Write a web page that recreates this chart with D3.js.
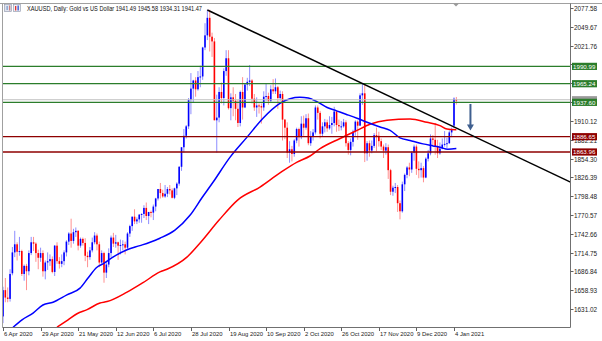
<!DOCTYPE html>
<html>
<head>
<meta charset="utf-8">
<script src="https://cdn.jsdelivr.net/npm/d3@7"></script>
<style>
  body { margin: 0; background: #fff; }
  text { font-family: "Liberation Sans", Arial, sans-serif; }
</style>
</head>
<body>
<svg id="chart" width="602" height="341"></svg>
<script>
// daily bars, 6 Apr 2020 .. 5 Jan 2021 : [open, high, low, close]
var candles = [
  [1620,1664,1610,1659],[1659,1677,1641,1648],[1648,1663,1641,1646],[1646,1690,1642,1683],
  [1684,1723,1681,1715],[1715,1747,1708,1727],[1727,1730,1703,1716],[1716,1738,1710,1717],
  [1717,1719,1680,1683],[1683,1697,1673,1695],[1695,1698,1659,1687],[1687,1718,1681,1714],
  [1714,1738,1711,1730],[1730,1738,1717,1728],[1728,1730,1701,1714],[1714,1719,1690,1707],
  [1707,1722,1701,1714],[1714,1718,1679,1687],[1687,1703,1675,1700],[1700,1715,1689,1702],
  [1702,1712,1695,1705],[1705,1709,1684,1686],[1686,1726,1680,1725],[1725,1730,1698,1702],
  [1702,1708,1691,1698],[1698,1712,1693,1702],[1702,1718,1696,1715],[1715,1733,1709,1731],
  [1731,1745,1726,1743],[1743,1765,1722,1732],[1732,1750,1728,1745],[1745,1752,1738,1747],
  [1747,1748,1718,1725],[1725,1737,1722,1735],[1735,1737,1725,1729],[1729,1736,1702,1710],
  [1710,1716,1693,1708],[1708,1723,1704,1718],[1718,1737,1715,1730],[1730,1745,1727,1740],
  [1740,1743,1718,1727],[1727,1731,1693,1700],[1700,1718,1697,1714],[1714,1716,1670,1685],
  [1685,1701,1677,1697],[1697,1721,1693,1714],[1714,1740,1708,1737],[1737,1744,1723,1728],
  [1728,1741,1722,1730],[1730,1731,1704,1725],[1725,1734,1712,1726],[1726,1733,1718,1727],
  [1727,1731,1712,1722],[1722,1745,1720,1743],[1743,1756,1738,1754],[1754,1768,1747,1768],
  [1768,1779,1757,1761],[1761,1767,1757,1764],[1764,1772,1759,1771],[1771,1773,1759,1772],
  [1772,1785,1766,1781],[1781,1789,1763,1769],[1769,1775,1757,1775],[1775,1777,1767,1774],
  [1774,1786,1763,1783],[1783,1796,1776,1795],[1795,1809,1792,1809],[1809,1818,1795,1803],
  [1803,1808,1796,1798],[1798,1815,1796,1802],[1802,1812,1797,1809],[1809,1815,1801,1807],
  [1807,1810,1795,1796],[1796,1811,1794,1810],[1810,1819,1800,1817],[1817,1843,1814,1842],
  [1842,1871,1836,1871],[1871,1898,1863,1888],[1888,1904,1884,1902],[1902,1944,1898,1941],
  [1941,1981,1920,1958],[1958,1971,1938,1970],[1970,1975,1946,1957],[1957,1984,1955,1975],
  [1975,1992,1960,1976],[1976,2020,1971,2019],[2019,2055,2015,2037],[2037,2075,2030,2063],
  [2063,2075,2013,2035],[2035,2041,2005,2028],[2028,2033,1911,1911],[1911,1949,1863,1915],
  [1915,1960,1908,1953],[1953,1967,1936,1944],[1944,1988,1933,1984],[1984,2015,1977,2003],
  [2003,2015,1927,1929],[1929,1951,1911,1945],[1945,1960,1917,1940],[1940,1950,1911,1928],
  [1928,1941,1901,1907],[1907,1955,1902,1953],[1953,1975,1912,1930],[1930,1965,1929,1964],
  [1964,1974,1955,1968],[1968,1993,1962,1970],[1970,1972,1936,1943],[1943,1950,1925,1930],
  [1930,1945,1916,1933],[1933,1936,1921,1932],[1932,1936,1906,1930],[1930,1954,1925,1946],
  [1946,1966,1940,1947],[1947,1952,1934,1940],[1940,1963,1937,1957],[1957,1972,1950,1954],
  [1954,1973,1950,1960],[1960,1962,1928,1944],[1944,1955,1940,1950],[1950,1954,1881,1912],
  [1912,1913,1883,1900],[1900,1908,1855,1863],[1863,1880,1848,1868],[1868,1873,1850,1861],
  [1861,1883,1857,1881],[1881,1900,1877,1898],[1898,1900,1872,1886],[1886,1917,1883,1906],
  [1906,1918,1888,1900],[1900,1920,1897,1914],[1914,1921,1874,1877],[1877,1895,1873,1887],
  [1887,1898,1881,1893],[1893,1933,1890,1930],[1930,1933,1912,1922],[1922,1925,1884,1891],
  [1891,1908,1887,1902],[1902,1913,1893,1908],[1908,1912,1894,1899],[1899,1917,1897,1904],
  [1904,1916,1891,1907],[1907,1931,1902,1924],[1924,1926,1894,1904],[1904,1912,1895,1902],
  [1902,1910,1896,1902],[1902,1913,1900,1908],[1908,1911,1872,1877],[1877,1880,1860,1867],
  [1867,1884,1859,1879],[1879,1897,1872,1894],[1894,1911,1888,1909],[1909,1911,1882,1903],
  [1903,1951,1903,1948],[1948,1965,1934,1951],[1951,1966,1849,1862],[1862,1880,1851,1877],
  [1877,1881,1857,1866],[1866,1881,1862,1873],[1873,1892,1870,1889],[1889,1900,1865,1888],
  [1888,1894,1872,1880],[1880,1884,1867,1872],[1872,1875,1855,1866],[1866,1877,1860,1871],
  [1871,1875,1824,1837],[1837,1839,1800,1805],[1805,1814,1799,1811],[1811,1818,1803,1812],
  [1812,1815,1775,1788],[1788,1792,1764,1776],[1776,1820,1774,1816],[1816,1832,1806,1830],
  [1830,1843,1825,1841],[1841,1848,1828,1838],[1838,1865,1833,1863],[1863,1875,1851,1872],
  [1872,1875,1830,1839],[1839,1850,1825,1837],[1837,1848,1826,1840],[1840,1843,1819,1826],
  [1826,1856,1825,1854],[1854,1867,1850,1862],[1862,1890,1859,1884],[1884,1889,1874,1882],
  [1882,1907,1860,1872],[1872,1882,1855,1862],[1862,1878,1860,1869],[1869,1884,1868,1875],
  [1875,1895,1872,1876],[1876,1885,1870,1877],[1877,1896,1876,1893],[1893,1900,1886,1897],
  [1903,1945,1900,1943],[1941.49,1945.58,1934.31,1941.47]
];

// moving averages: [bar index, price]
var blueMA = [
  [4.3,1604],[8.1,1615],[12.8,1625],[17,1637],[21.3,1641],[27.2,1652],[32.8,1662],[36.2,1677],
  [40,1693],[42.6,1698],[46.8,1708],[52.8,1719],[58.3,1725],[62.6,1730],[66.8,1736],[73.2,1748],
  [79.6,1770],[84.7,1796],[89.4,1819],[96.6,1856],[103.9,1886],[110.7,1914],[117.9,1936],
  [122.2,1943],[126.4,1945],[130,1944],[134,1938],[138,1930],[142,1925],[146,1920],[150.7,1914],
  [155,1908],[160.5,1901],[164.8,1896],[169,1885],[173.3,1881],[178.8,1876],[183.1,1873],
  [186,1871],[189.4,1868],[193,1869]
];
var redMA = [
  [23,1604],[27.7,1615],[31.5,1624],[35.8,1630],[41.3,1640],[44.3,1642],[52.8,1656],[59.6,1670],
  [66.8,1686],[69.8,1690],[78.3,1708],[83.9,1729],[92,1763],[100,1793],[109.4,1812],[117.9,1833],
  [125.2,1849],[130.7,1858],[135,1869],[143.5,1884],[150.7,1896],[156.2,1905],[163.5,1911],
  [173.3,1913],[180.5,1908],[186,1903],[189,1898],[193,1897]
];

var greenLevels = [1990.99, 1965.24, 1937.60];
var redLevels = [1886.65, 1863.96];
var bidPrice = 1941.47;
var trendPts = [[87, 2074.6], [193, 1899.5]];
var arrowPts = [[199, 1935], [199, 1896]];

var priceTicks = [2077.58, 2049.67, 2021.76, 1993.85, 1965.94, 1938.03, 1910.12, 1882.21,
  1854.30, 1826.39, 1798.48, 1770.57, 1742.66, 1714.75, 1686.84, 1658.93, 1631.02];
var dateTickIdx = [0, 16, 32, 48, 64, 80, 96, 112, 128, 144, 160, 176, 192];
var dateLabels = ["6 Apr 2020", "29 Apr 2020", "21 May 2020", "12 Jun 2020", "6 Jul 2020",
  "28 Jul 2020", "19 Aug 2020", "10 Sep 2020", "2 Oct 2020", "26 Oct 2020", "17 Nov 2020",
  "9 Dec 2020", "4 Jan 2021"];
var title = "XAUUSD, Daily:  Gold vs US Dollar  1941.49 1945.58 1934.31 1941.47";

var pL = 2.5, pR = 570.5, pT = 3.5, pB = 327.5;

var svg = d3.select("#chart");
var x = d3.scaleLinear().domain([0, 192]).range([3, 454]);
var y = d3.scaleLinear().domain([1631.02, 2077.58]).range([309, 8]);

svg.append("defs").append("clipPath").attr("id", "plotclip")
  .append("rect").attr("x", pL).attr("y", pT)
  .attr("width", pR - pL).attr("height", pB - pT);

var plot = svg.append("g").attr("clip-path", "url(#plotclip)");

// candles
var bars = plot.selectAll(".bar").data(candles).enter().append("g");
bars.append("line")
  .attr("x1", function(d, i) { return x(i); })
  .attr("x2", function(d, i) { return x(i); })
  .attr("y1", function(d) { return y(d[1]); })
  .attr("y2", function(d) { return y(d[2]); })
  .attr("stroke", function(d) { return d[3] >= d[0] ? "#8c8cff" : "#ff9090"; })
  .attr("stroke-width", 1);
bars.append("rect")
  .attr("x", function(d, i) { return x(i) - 0.8; })
  .attr("width", 1.6)
  .attr("y", function(d) { return y(Math.max(d[0], d[3])); })
  .attr("height", function(d) { return Math.max(1, Math.abs(y(d[0]) - y(d[3]))); })
  .attr("fill", function(d) { return d[3] >= d[0] ? "#0000ff" : "#ff0000"; });

// moving averages
var maLine = d3.line()
  .x(function(d) { return x(d[0]); })
  .y(function(d) { return y(d[1]); })
  .curve(d3.curveMonotoneX);
plot.append("path").attr("d", maLine(redMA))
  .attr("fill", "none").attr("stroke", "#ff0000").attr("stroke-width", 1.5);
plot.append("path").attr("d", maLine(blueMA))
  .attr("fill", "none").attr("stroke", "#0000ff").attr("stroke-width", 1.5);

// bid line
plot.append("line").attr("x1", pL).attr("x2", pR)
  .attr("y1", y(bidPrice)).attr("y2", y(bidPrice))
  .attr("stroke", "#c0c0c0").attr("stroke-width", 1);

// levels
plot.selectAll(".lvlg").data(greenLevels).enter().append("line")
  .attr("x1", pL).attr("x2", pR)
  .attr("y1", function(d) { return y(d); }).attr("y2", function(d) { return y(d); })
  .attr("stroke", "#2b7d2b").attr("stroke-width", 1.3);
plot.selectAll(".lvlr").data(redLevels).enter().append("line")
  .attr("x1", pL).attr("x2", pR)
  .attr("y1", function(d) { return y(d); }).attr("y2", function(d) { return y(d); })
  .attr("stroke", "#8e0000").attr("stroke-width", 1.3);

// trend line, extended to the right edge
var slope = (trendPts[1][1] - trendPts[0][1]) / (trendPts[1][0] - trendPts[0][0]);
var endIdx = x.invert(pR);
plot.append("line")
  .attr("x1", x(trendPts[0][0])).attr("y1", y(trendPts[0][1]))
  .attr("x2", x(endIdx)).attr("y2", y(trendPts[0][1] + slope * (endIdx - trendPts[0][0])))
  .attr("stroke", "#000").attr("stroke-width", 1.5);

// arrow
var ax = x(arrowPts[0][0]), ay1 = y(arrowPts[0][1]), ay2 = y(arrowPts[1][1]);
plot.append("line").attr("x1", ax).attr("x2", ax).attr("y1", ay1).attr("y2", ay2 - 4)
  .attr("stroke", "#3f5f8f").attr("stroke-width", 2);
plot.append("path")
  .attr("d", "M" + (ax - 3.5) + "," + (ay2 - 6) + "L" + (ax + 3.5) + "," + (ay2 - 6) + "L" + ax + "," + ay2 + "Z")
  .attr("fill", "#3f5f8f");

// frame
svg.append("line").attr("x1", 0).attr("x2", 602).attr("y1", pT).attr("y2", pT)
  .attr("stroke", "#a0a0a0");
svg.append("line").attr("x1", pL).attr("x2", pL).attr("y1", pT).attr("y2", pB)
  .attr("stroke", "#a0a0a0");
svg.append("line").attr("x1", pR).attr("x2", pR).attr("y1", pT).attr("y2", pB)
  .attr("stroke", "#707070");
svg.append("line").attr("x1", pL).attr("x2", pR).attr("y1", pB).attr("y2", pB)
  .attr("stroke", "#707070");

// price axis (labels under a tag are covered in the original, except the one peeking out)
var tagPrices = greenLevels.concat(redLevels, [bidPrice]);
var yAxis = svg.append("g");
priceTicks.forEach(function(p) {
  var py = Math.round(y(p)) + 0.5;
  yAxis.append("line").attr("x1", pR).attr("x2", pR + 3).attr("y1", py).attr("y2", py)
    .attr("stroke", "#606060");
  var hidden = tagPrices.some(function(t) { return Math.abs(y(t) - y(p)) < 2.5; });
  if (!hidden) {
    yAxis.append("text").attr("x", pR + 3.5).attr("y", py + 2.3)
      .attr("font-size", 6.4).attr("fill", "#222").text(p.toFixed(2));
  }
});

// price tags; the bid tag sits behind the 1937.60 tag, only its edge shows
function priceTag(p, bg, withText) {
  var py = y(p);
  svg.append("rect").attr("x", pR + 1.5).attr("y", py - 3.6).attr("width", 25).attr("height", 7.2)
    .attr("fill", bg);
  if (withText) {
    svg.append("text").attr("x", pR + 2.5).attr("y", py + 2.2)
      .attr("font-size", 6.2).attr("fill", "#fff").text(p.toFixed(2));
  }
}
priceTag(bidPrice, "#9a9a9a", false);
greenLevels.forEach(function(p) { priceTag(p, "#2b7d2b", true); });
redLevels.forEach(function(p) { priceTag(p, "#8e0000", true); });

// date axis
dateTickIdx.forEach(function(i, k) {
  var tx = Math.round(x(i)) + 0.5;
  svg.append("line").attr("x1", tx).attr("x2", tx).attr("y1", pB).attr("y2", pB + 3.5)
    .attr("stroke", "#606060");
  svg.append("text").attr("x", tx + 0.5).attr("y", 336)
    .attr("font-size", 5.9).attr("fill", "#222").text(dateLabels[k]);
});

// shift marker
svg.append("path").attr("d", "M453,3.5L459,3.5L456,6.5Z").attr("fill", "#9a9a9a");

// title icon and text
var icon = svg.append("g");
icon.append("rect").attr("x", 4.5).attr("y", 4.5).attr("width", 7).attr("height", 7)
  .attr("fill", "#dfe4ee").attr("stroke", "#8a93a8").attr("stroke-width", 0.6);
icon.append("rect").attr("x", 13.5).attr("y", 4.5).attr("width", 7).attr("height", 7)
  .attr("fill", "#eef0f6").attr("stroke", "#8a93a8").attr("stroke-width", 0.6);
[[6.5, 6, 4, "#7f9fd0"], [9, 5.5, 5, "#d07f7f"], [15, 6, 4.5, "#e03030"], [17.5, 5.5, 5, "#3050d0"]]
  .forEach(function(b) {
    icon.append("rect").attr("x", b[0]).attr("y", b[1]).attr("width", 1.3).attr("height", b[2])
      .attr("fill", b[3]);
  });
svg.append("text").attr("x", 27).attr("y", 10.6)
  .attr("font-size", 6.3).attr("fill", "#111")
  .attr("textLength", 175).attr("lengthAdjust", "spacingAndGlyphs")
  .text(title);
</script>
</body>
</html>
